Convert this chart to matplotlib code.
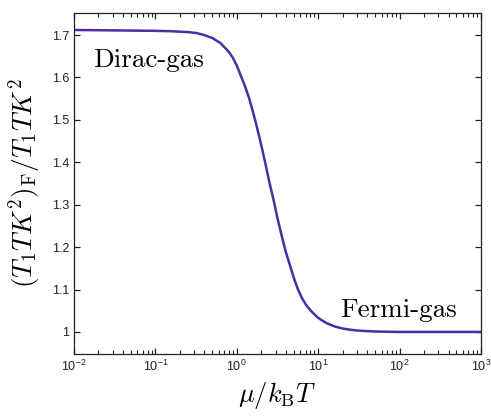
import numpy as np
import matplotlib.pyplot as plt
from matplotlib.ticker import FuncFormatter, LogLocator

plt.rcParams['font.family'] = ['Liberation Sans', 'DejaVu Sans']
plt.rcParams['mathtext.fontset'] = 'cm'

# relaxation-rate ratio vs reduced chemical potential
mu_over_kT = [0.01, 0.0316, 0.1, 0.158, 0.251, 0.316, 0.398, 0.501, 0.631,
              0.794, 0.891, 1.0, 1.122, 1.259, 1.413, 1.585, 1.778, 1.995,
              2.239, 2.512, 2.818, 3.162, 3.548, 3.981, 4.467, 5.012, 5.623,
              6.310, 7.079, 7.943, 8.913, 10.0, 12.59, 15.85, 19.95, 25.1,
              31.6, 50.1, 100, 1000]
ratio = [1.712, 1.711, 1.710, 1.709, 1.707, 1.705, 1.700, 1.693, 1.681,
         1.661, 1.647, 1.628, 1.604, 1.580, 1.552, 1.518, 1.481, 1.441,
         1.398, 1.353, 1.313, 1.268, 1.228, 1.190, 1.159, 1.128, 1.101,
         1.080, 1.064, 1.052, 1.042, 1.033, 1.021, 1.013, 1.008, 1.005,
         1.003, 1.001, 1.0, 1.0]
y_ticks = [1.0, 1.1, 1.2, 1.3, 1.4, 1.5, 1.6, 1.7]

fig = plt.figure(figsize=(4.91, 4.17), dpi=100)
ax = fig.add_axes([0.1507, 0.1511, 0.8289, 0.8177])

ax.semilogx(mu_over_kT, ratio, color='#4a2fa0', lw=1.8)

ax.set_xlim(1e-2, 1e3)
ax.set_ylim(0.948, 1.752)
ax.set_yticks(y_ticks)
ax.yaxis.set_major_formatter(FuncFormatter(lambda v, p: '%g' % v))
ax.xaxis.set_major_locator(LogLocator(base=10, numticks=100))
ax.xaxis.set_minor_locator(LogLocator(base=10, subs=np.arange(2, 10) * 1.0, numticks=100))

ax.tick_params(which='both', direction='in', top=True, right=True,
               labelsize=9, colors='#222222')
ax.tick_params(which='major', length=4.5, width=0.9)
ax.tick_params(which='minor', length=3, width=0.8)
for s in ax.spines.values():
    s.set_linewidth(0.9)
    s.set_color('#222222')

ax.set_xlabel(r'$\mu/k_{\rm B}T$', fontsize=19, labelpad=4)
ax.set_ylabel(r'$(T_1TK^2)_{\rm F}/T_1TK^2$', fontsize=19.5, labelpad=6)

ax.text(0.017, 1.625, 'Dirac-gas', family='cmr10', fontsize=19.5, va='baseline')
ax.text(18.8, 1.036, 'Fermi-gas', family='cmr10', fontsize=19.5, va='baseline')

fig.savefig('out.png', dpi=100)
